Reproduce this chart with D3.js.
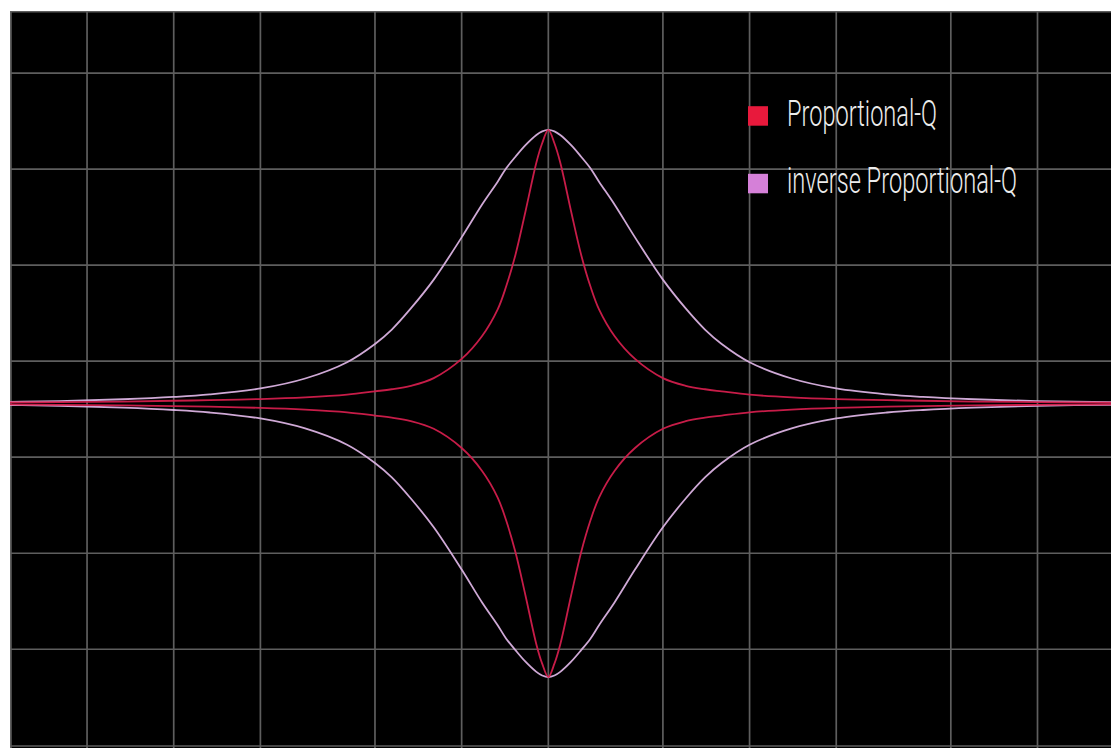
<!DOCTYPE html>
<html>
<head>
<meta charset="utf-8">
<script src="https://cdn.jsdelivr.net/npm/d3@7"></script>
<style>
  html, body { margin: 0; padding: 0; background: #ffffff; }
  svg { display: block; }
</style>
</head>
<body>
<svg id="chart" width="1111" height="748"></svg>
<script>
// ---- data ----
// frequencies in Hz (log axis), centre frequency 1 kHz
const freqs = [10, 20, 33.3, 50, 66.7, 100, 143, 200, 250, 286, 333, 400, 500, 588, 667, 714, 769, 833, 909, 952,
               1000, 1050, 1100, 1200, 1300, 1400, 1500, 1700, 2000, 2500, 3000, 3500, 4000, 5000, 7000, 10000, 15000, 20000, 30000, 50000, 100000];
// boost gain in dB; the cut curve is the same curve with negative gain
const proportionalQ = [0.04, 0.07, 0.10, 0.14, 0.17, 0.23, 0.32, 0.46, 0.63, 0.74, 0.92, 1.32, 2.32, 3.50, 4.90, 6.10, 7.75, 10.00, 12.55, 13.55,
                       14.25, 13.55, 12.55, 10.00, 7.75, 6.10, 4.90, 3.50, 2.32, 1.32, 0.92, 0.74, 0.63, 0.46, 0.32, 0.23, 0.17, 0.14, 0.10, 0.07, 0.04];
const inverseProportionalQ = [0.06, 0.12, 0.22, 0.34, 0.47, 0.78, 1.30, 2.15, 3.10, 3.85, 4.95, 6.45, 8.65, 10.35, 11.55, 12.25, 12.85, 13.45, 13.98, 14.17,
                              14.25, 14.17, 13.98, 13.45, 12.85, 12.25, 11.55, 10.35, 8.65, 6.45, 4.95, 3.85, 3.10, 2.15, 1.30, 0.78, 0.47, 0.34, 0.22, 0.12, 0.06];
// grid lines
const freqGrid = [25, 50, 100, 250, 500, 1000, 2500, 5000, 10000, 25000, 50000];
const gainGrid = [17.2, 12.2, 7.2, 2.2, -2.8, -7.8, -12.8, -17.84];
const seriesNames = ["Proportional-Q", "inverse Proportional-Q"];
const legendColors = ["#e8193c", "#d580d8"];
const lineColors = ["#d21d4c", "#dab2e2"];

// ---- layout ----
const W = 1111, H = 748;
const plotLeft = 10, plotTop = 11, plotRight = 1111, plotBottom = 746;

const svg = d3.select("#chart");
svg.append("rect").attr("x", 0).attr("y", 0).attr("width", W).attr("height", H).attr("fill", "#ffffff");

const x = d3.scaleLog().domain([13.5, 90000]).range([plotLeft, plotRight]);
const y = d3.scaleLinear().domain([-17.84, 20.44]).range([plotBottom, plotTop]);

svg.append("defs").append("clipPath").attr("id", "plotclip")
  .append("rect").attr("x", plotLeft).attr("y", plotTop).attr("width", plotRight - plotLeft).attr("height", H - plotTop);

svg.append("rect").attr("x", plotLeft).attr("y", plotTop).attr("width", W - plotLeft).attr("height", H - plotTop).attr("fill", "#000000");

const gridColor = "#5e5e5e";
const grid = svg.append("g").attr("clip-path", "url(#plotclip)");
// frame (top and left)
grid.append("line").attr("x1", plotLeft).attr("x2", plotRight).attr("y1", plotTop + 0.5).attr("y2", plotTop + 0.5)
  .attr("stroke", gridColor).attr("stroke-width", 2);
grid.append("line").attr("x1", plotLeft + 0.75).attr("x2", plotLeft + 0.75).attr("y1", plotTop).attr("y2", H)
  .attr("stroke", gridColor).attr("stroke-width", 2);
grid.selectAll(".vg").data(freqGrid).enter().append("line")
  .attr("x1", d => x(d)).attr("x2", d => x(d)).attr("y1", plotTop).attr("y2", H)
  .attr("stroke", gridColor).attr("stroke-width", 1.7);
grid.selectAll(".hg").data(gainGrid).enter().append("line")
  .attr("x1", plotLeft).attr("x2", plotRight).attr("y1", d => y(d)).attr("y2", d => y(d))
  .attr("stroke", gridColor).attr("stroke-width", 1.7);

// ---- curves ----
const line = d3.line().x(d => x(d[0])).y(d => y(d[1])).curve(d3.curveCatmullRom.alpha(0.5));
const curves = svg.append("g").attr("clip-path", "url(#plotclip)").attr("fill", "none");
const series = [proportionalQ, inverseProportionalQ];
[1, 0].forEach(i => {
  const vals = series[i];
  [1, -1].forEach(sign => {
    curves.append("path")
      .attr("d", line(freqs.map((f, k) => [f, sign * vals[k]])))
      .attr("stroke", lineColors[i])
      .attr("stroke-width", 1.8)
      .attr("stroke-opacity", 0.95);
  });
});

// ---- legend ----
const legend = svg.append("g");
const legendY = [125.7, 193.3];
const textWidths = [150, 230];
seriesNames.forEach((name, i) => {
  legend.append("rect").attr("x", 748).attr("y", legendY[i] - 19.5).attr("width", 20).attr("height", 19.5)
    .attr("fill", legendColors[i]);
  const t = legend.append("text").attr("x", 0).attr("y", 0)
    .attr("font-family", "Roboto, 'Liberation Sans Narrow', sans-serif")
    .attr("font-weight", 300)
    .attr("font-size", 37)
    .attr("fill", "#ececec")
    .text(name);
  const natural = t.node().getComputedTextLength();
  t.attr("transform", `translate(787,${legendY[i]}) scale(${textWidths[i] / natural},1)`);
});
</script>
</body>
</html>
